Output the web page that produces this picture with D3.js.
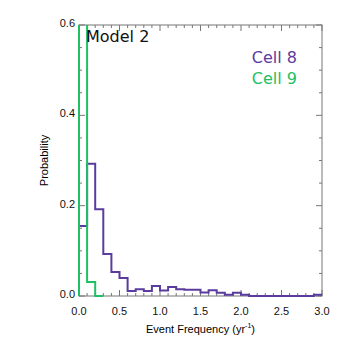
<!DOCTYPE html>
<html><head><meta charset="utf-8">
<script src="https://cdn.jsdelivr.net/npm/d3@7"></script>
<style>body{margin:0;background:#fff}svg{display:block}</style>
</head><body>
<script>
// Data: probability per 0.1 yr^-1 bin, starting at 0.0
const binWidth = 0.1;
const cell8 = [0.155,0.293,0.192,0.093,0.053,0.040,0.011,0.015,0.011,0.022,0.012,0.020,0.015,0.014,0.014,0.008,0.013,0.007,0.003,0.007,0.003,0,0,0,0,0,0,0,0,0.003];
const cell9 = [0.965,0.031,0];
const xTicks = [0,0.5,1.0,1.5,2.0,2.5,3.0];
const yTicks = [0,0.2,0.4,0.6];
const seriesNames = ["Cell 8","Cell 9"];
const colors = ["#5b3c9e","#1ec063"];

const W=346,H=346;
const m={l:79,r:24,t:25,b:50};
const svg=d3.select("body").append("svg").attr("width",W).attr("height",H);
const x=d3.scaleLinear().domain([0,3]).range([m.l,W-m.r]);
const y=d3.scaleLinear().domain([0,0.6]).range([H-m.b,m.t]);
const font="Liberation Sans, Arial, sans-serif";

svg.append("defs").append("clipPath").attr("id","clip").append("rect")
  .attr("x",x(0)-2).attr("y",y(0.6)).attr("width",x(3)-x(0)+4).attr("height",y(0)-y(0.6)+2);

// frame & ticks
const axisCol="#777";
svg.append("rect").attr("x",x(0)).attr("y",y(0.6)).attr("width",x(3)-x(0)).attr("height",y(0)-y(0.6))
  .attr("fill","none").attr("stroke",axisCol).attr("stroke-width",1);
const xMinor=d3.range(0,3.0001,0.1), yMinor=d3.range(0,0.6001,0.05);
const isMaj=(v,s)=>Math.abs(v/s-Math.round(v/s))<1e-6;
xMinor.forEach(v=>{
  const L=isMaj(v,0.5)?6:3;
  svg.append("line").attr("x1",x(v)).attr("x2",x(v)).attr("y1",y(0)).attr("y2",y(0)-L).attr("stroke",axisCol);
  svg.append("line").attr("x1",x(v)).attr("x2",x(v)).attr("y1",y(0.6)).attr("y2",y(0.6)+L).attr("stroke",axisCol);
});
yMinor.forEach(v=>{
  const L=isMaj(v,0.2)?6:3;
  svg.append("line").attr("y1",y(v)).attr("y2",y(v)).attr("x1",x(0)).attr("x2",x(0)+L).attr("stroke",axisCol);
  svg.append("line").attr("y1",y(v)).attr("y2",y(v)).attr("x1",x(3)).attr("x2",x(3)-L).attr("stroke",axisCol);
});

function stepPts(vals){
  const pts=[[0,0]];
  vals.forEach((v,i)=>{pts.push([i*binWidth,v]);pts.push([(i+1)*binWidth,v]);});
  return pts;
}
const line=d3.line().x(d=>x(d[0])).y(d=>y(d[1]));
const g=svg.append("g").attr("clip-path","url(#clip)");
[cell8,cell9].forEach((vals,i)=>{
  g.append("path").attr("d",line(stepPts(vals))).attr("fill","none")
   .attr("stroke",colors[i]).attr("stroke-width",2);
});

xTicks.forEach(v=>svg.append("text").attr("x",x(v)).attr("y",y(0)+19).attr("text-anchor","middle")
  .attr("font-family",font).attr("font-size",11).attr("fill","#111").text(v.toFixed(1)));
yTicks.forEach(v=>svg.append("text").attr("x",x(0)-4).attr("y",y(v)+2).attr("text-anchor","end")
  .attr("font-family",font).attr("font-size",11).attr("fill","#111").text(v.toFixed(1)));

const xl=svg.append("text").attr("x",(x(0)+x(3))/2).attr("y",y(0)+37).attr("text-anchor","middle")
  .attr("font-family",font).attr("font-size",11);
xl.append("tspan").text("Event Frequency (yr");
xl.append("tspan").attr("font-size",7).attr("dy",-5).text("-1");
xl.append("tspan").attr("dy",5).text(")");
svg.append("text").attr("transform",`translate(48,${(y(0)+y(0.6))/2}) rotate(-90)`).attr("text-anchor","middle")
  .attr("font-family",font).attr("font-size",11).text("Probability");

svg.append("text").attr("x",86).attr("y",42).attr("font-family","DejaVu Sans, sans-serif")
  .attr("font-size",16).attr("fill","#111").text("Model 2");
seriesNames.forEach((n,i)=>svg.append("text").attr("x",297).attr("y",63+i*21).attr("text-anchor","end")
  .attr("font-family","DejaVu Sans, sans-serif").attr("font-size",16).attr("fill",colors[i]).text(n));
</script>
</body></html>
